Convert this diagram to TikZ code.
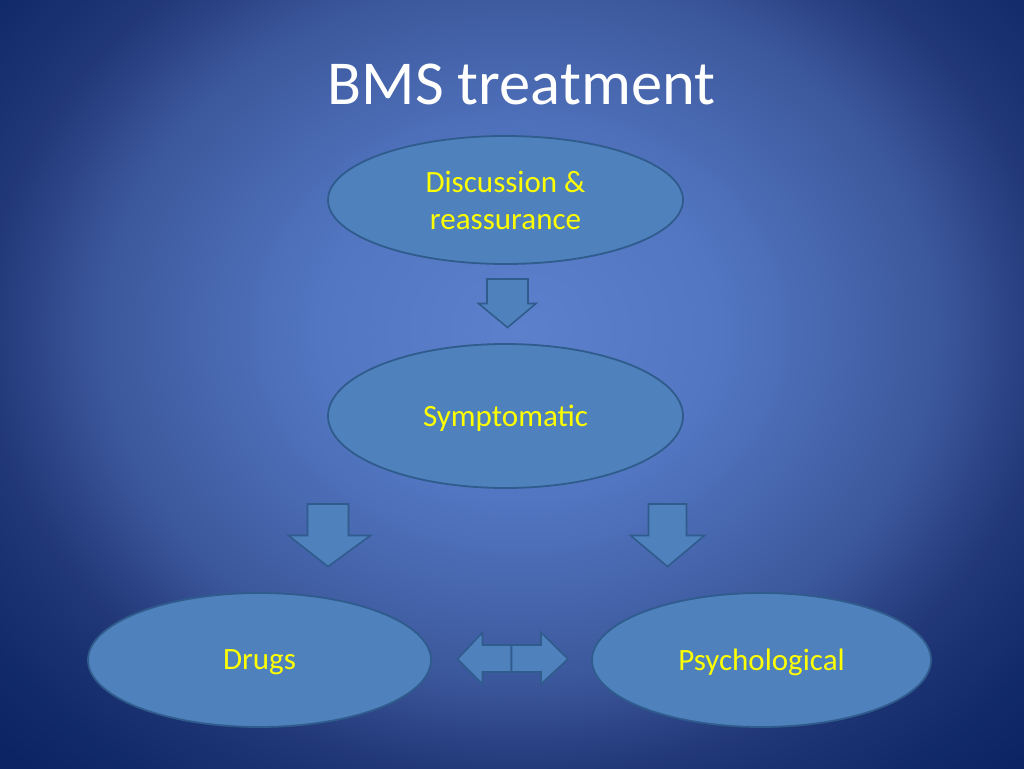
\documentclass[tikz,border=0pt]{standalone}
\usepackage{fontspec}
\setmainfont{Carlito}
\usetikzlibrary{shapes.geometric}
\definecolor{bgA}{HTML}{5D80CC}
\definecolor{bgB}{HTML}{5376C2}
\definecolor{bgC}{HTML}{3C589C}
\definecolor{bgD}{HTML}{223878}
\definecolor{bgE}{HTML}{112A6A}
\definecolor{bgF}{HTML}{0C2464}
\definecolor{shapefill}{HTML}{4F81BD}
\definecolor{shapeline}{HTML}{2F5C8C}
\definecolor{txtyellow}{HTML}{FFFF00}
\pgfdeclareradialshading{bgshade}{\pgfpoint{0bp}{0bp}}{color(0bp)=(bgA); color(7bp)=(bgB); color(14.5bp)=(bgC); color(18.5bp)=(bgD); color(22.5bp)=(bgE); color(25bp)=(bgF); color(50bp)=(bgF)}
\tikzset{
  oval/.style={ellipse, draw=shapeline, fill=shapefill, line width=1.8pt, inner sep=0pt,
    text=txtyellow, align=center, font=\fontsize{31}{37}\selectfont},
  oneline/.style={text depth=0pt},
  blockarrow/.style={draw=shapeline, fill=shapefill, line width=1.6pt, line join=miter},
}
\begin{document}
\begin{tikzpicture}[x=1pt,y=-1pt]
\useasboundingbox (0,0) rectangle (1024,768);
\begin{scope}
\clip (0,0) rectangle (1024,768);
\shade[shading=bgshade] (-200,-270) rectangle (1240,930);
\end{scope}
\node[text=white, font=\fontsize{62.5}{70}\selectfont] (title) at (521.5,84) {BMS treatment};
\node[oval, minimum width=355pt, minimum height=128pt] (disc) at (505.5,200) {Discussion \&\\reassurance};
\node[oval, oneline, minimum width=355pt, minimum height=144pt] (symp) at (505.5,416) {Symptomatic};
\node[oval, oneline, minimum width=343pt, minimum height=134pt] (drugs) at (259.5,660) {Drugs};
\node[oval, oneline, minimum width=339pt, minimum height=134pt] (psych) at (761.5,660) {Psychological};
% down arrow top
\draw[blockarrow] (487,279) -- (528,279) -- (528,303.5) -- (536,303.5) -- (507.5,327.5) -- (478.5,303.5) -- (487,303.5) -- cycle;
% down arrow left
\draw[blockarrow] (307.5,504) -- (348.5,504) -- (348.5,535.5) -- (370.5,535.5) -- (328,566.5) -- (288.5,535.5) -- (307.5,535.5) -- cycle;
% down arrow right
\draw[blockarrow] (648.5,504) -- (686.5,504) -- (686.5,535.5) -- (704.5,535.5) -- (667.5,566.5) -- (630.5,535.5) -- (648.5,535.5) -- cycle;
% left arrow
\draw[blockarrow] (511.5,645) -- (482.5,645) -- (482.5,632.5) -- (457.5,659) -- (482.5,684) -- (482.5,672) -- (511.5,672) -- cycle;
% right arrow
\draw[blockarrow] (511.5,645) -- (541,645) -- (541,632.5) -- (568,659) -- (541,684) -- (541,672) -- (511.5,672) -- cycle;
\end{tikzpicture}
\end{document}
